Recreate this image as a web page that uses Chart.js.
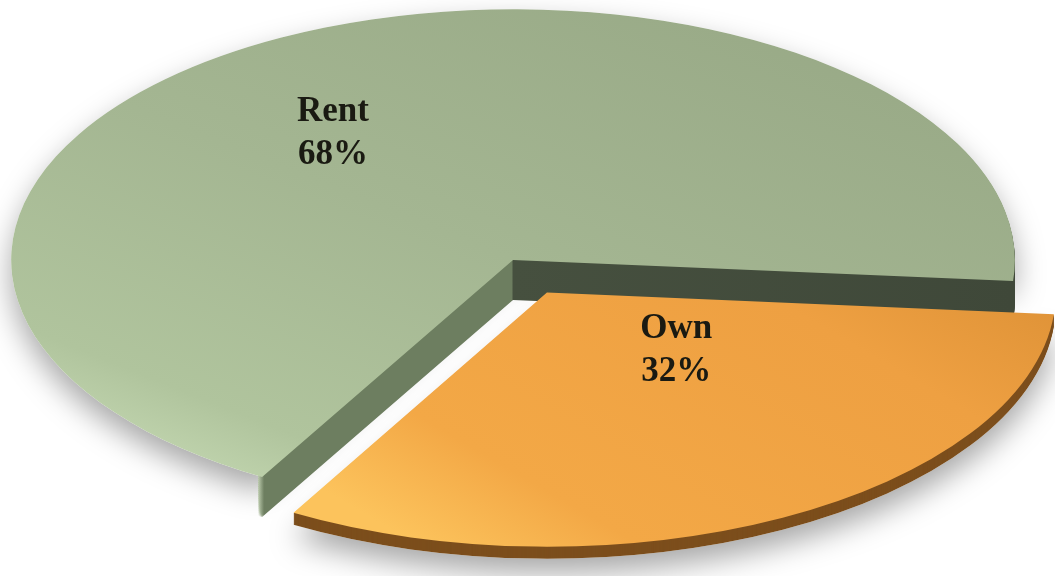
<!DOCTYPE html>
<html>
<head>
<meta charset="utf-8">
<script src="https://cdn.jsdelivr.net/npm/chart.js@4.4.1/dist/chart.umd.min.js"></script>
<style>
  body { margin: 0; background: #fff; }
</style>
</head>
<body>
<canvas id="chart" width="1055" height="576"></canvas>
<script>
const labels = ['Rent', 'Own'];
const shares = [68, 32];
const pctLabels = ['68%', '32%'];

// the pie is laid out as a circle by Chart.js, then flattened/stretched
const STRETCH = 1.8316;
const SQUASH = 0.915;
const depths = [40, 12];

function withColor(arc, color) {
    const copy = Object.create(arc);
    copy.options = Object.assign({}, arc.options, { backgroundColor: color });
    return copy;
}

const pie3d = {
    id: 'pie3d',
    beforeDatasetsDraw(chart) {
        const ctx = chart.ctx;
        const arcs = chart.getDatasetMeta(0).data;
        const cx = arcs[0].x, cy = arcs[0].y;
        const r = arcs[0].outerRadius;

        const flat = (dy, fn) => {
            ctx.save();
            ctx.translate(cx, cy + dy);
            ctx.scale(STRETCH, SQUASH);
            ctx.translate(-cx, -cy);
            fn();
            ctx.restore();
        };

        const greenTop = ctx.createLinearGradient(cx + 200, cy - 250, cx - 200, cy + 250);
        greenTop.addColorStop(0, '#98a986');
        greenTop.addColorStop(0.5, '#a4b692');
        greenTop.addColorStop(0.85, '#b0c49d');
        greenTop.addColorStop(1, '#c8dcb6');

        // outer rim on the left is hidden by the bevel, only the cut walls show
        const greenSide = ctx.createLinearGradient(cx - r, 0, cx + r, 0);
        greenSide.addColorStop(0, 'rgba(190,205,175,0)');
        greenSide.addColorStop(0.246, 'rgba(190,205,175,0)');
        greenSide.addColorStop(0.252, '#6d7e60');
        greenSide.addColorStop(0.499, '#6d7e60');
        greenSide.addColorStop(0.5, '#46503f');
        greenSide.addColorStop(1, '#3f4839');

        const orangeTop = ctx.createLinearGradient(cx + 300, cy, cx - 50, cy + 300);
        orangeTop.addColorStop(0, '#dc9035');
        orangeTop.addColorStop(0.3, '#eea042');
        orangeTop.addColorStop(0.8, '#f3a846');
        orangeTop.addColorStop(1, '#fcc35c');

        const tops = [greenTop, orangeTop];
        const sides = [greenSide, '#7c4e1c'];

        // soft shadow under the pie
        ctx.save();
        ctx.shadowColor = 'rgba(0,0,0,0.35)';
        ctx.shadowBlur = 30;
        ctx.shadowOffsetY = 14;
        arcs.forEach((arc, i) => flat(i === 0 ? 0 : depths[i], () => withColor(arc, '#ffffff').draw(ctx)));
        ctx.restore();

        arcs.forEach((arc, i) => {
            for (let d = depths[i]; d >= 1; d--) {
                flat(d, () => withColor(arc, sides[i]).draw(ctx));
            }
            flat(0, () => withColor(arc, tops[i]).draw(ctx));
        });
        return false;
    },
    afterDraw(chart) {
        const ctx = chart.ctx;
        const arcs = chart.getDatasetMeta(0).data;
        const place = [[0.4686, 0.621], [0.32, 0.345]];
        arcs.forEach((arc, i) => {
            const a = arc.startAngle + place[i][0] * (arc.endAngle - arc.startAngle);
            const mid = (arc.startAngle + arc.endAngle) / 2;
            const off = (arc.options.offset || 0) / 4;
            const rr = place[i][1] * arc.outerRadius;
            const lx = Math.cos(a) * rr + Math.cos(mid) * off;
            const ly = Math.sin(a) * rr + Math.sin(mid) * off;
            const x = arc.x + lx * STRETCH;
            const y = arc.y + ly * SQUASH;
            ctx.save();
            ctx.fillStyle = '#1a1a12';
            ctx.font = 'bold 35px "Liberation Serif"';
            ctx.textAlign = 'center';
            ctx.textBaseline = 'middle';
            ctx.fillText(labels[i], x, y - 21);
            ctx.fillText(pctLabels[i], x, y + 22);
            ctx.restore();
        });
    }
};

new Chart(document.getElementById('chart'), {
    type: 'pie',
    data: {
        labels: labels,
        datasets: [{
            data: shares,
            backgroundColor: ['#a4b692', '#f0a243'],
            borderWidth: 0,
            offset: [0, 160],
            rotation: 210,
            radius: 274
        }]
    },
    options: {
        responsive: false,
        animation: false,
        events: [],
        layout: { padding: { left: 0, right: 29, top: 0, bottom: 56 } },
        plugins: {
            legend: { display: false },
            tooltip: { enabled: false }
        }
    },
    plugins: [pie3d]
});
</script>
</body>
</html>
